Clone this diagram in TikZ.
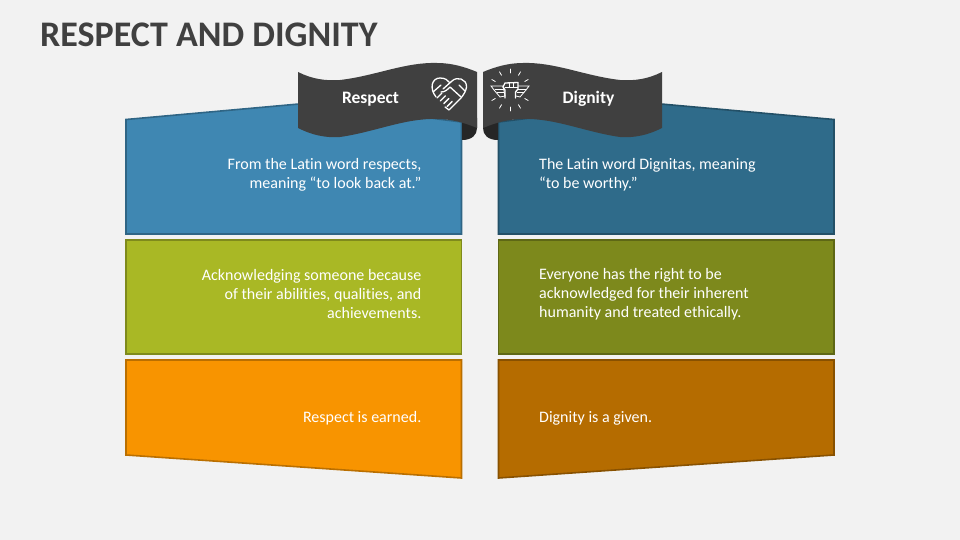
\documentclass[tikz,border=0pt]{standalone}
\usepackage{fontspec}
\setmainfont[Ligatures=NoCommon]{Carlito}
\definecolor{pagegray}{HTML}{F2F2F2}
\definecolor{inkgray}{HTML}{404040}
\definecolor{foldgray}{HTML}{262626}
\definecolor{blueA}{HTML}{3F87B2}
\definecolor{blueB}{HTML}{2F6B8A}
\definecolor{greenA}{HTML}{A9B825}
\definecolor{greenB}{HTML}{7D891C}
\definecolor{orangeA}{HTML}{F89400}
\definecolor{orangeB}{HTML}{B56C00}
\tikzset{
  panel/.style={draw=#1!75!black,fill=#1,line width=1.6pt,line join=miter},
  ribbon/.style={fill=inkgray},
  ribbonlabel/.style={text=white,font=\fontsize{17.5}{20}\selectfont\bfseries},
  lefttext/.style={text=white,anchor=east,align=right,inner sep=0pt,font=\fontsize{16}{19}\selectfont},
  righttext/.style={text=white,anchor=west,align=left,inner sep=0pt,font=\fontsize{16}{19}\selectfont},
  icon/.style={draw=white,line width=1.3pt,line join=round,line cap=round},
  thinicon/.style={draw=white,line width=.8pt,line cap=round}
}
\begin{document}
\begin{tikzpicture}[x=1pt,y=-1pt]
% Sfondo e titolo
\fill [pagegray] (0,0) rectangle (960,540);
\useasboundingbox (0,0) rectangle (960,540);
\node[anchor=west,inner sep=0pt,text=inkgray,font=\fontsize{36}{40}\selectfont\bfseries] (title) at (40,34.5) {RESPECT AND DIGNITY};

% Pannelli: due colonne speculari
\foreach \mirror/\shift/\cola/\colb/\colc in {1/0/blueA/greenA/orangeA,-1/960/blueB/greenB/orangeB} {
  \begin{scope}[xshift=\shift,xscale=\mirror]
    \draw [panel=\cola] (126,119.5) -- (310,103) -- (461.5,122) -- (461.5,234) -- (126,234) -- cycle;
    \draw [panel=\colb] (126,240) rectangle (461.5,354);
    \draw [panel=\colc] (126,360) -- (461.5,360) -- (461.5,478) -- (126,455) -- cycle;
    % Nastro con la piega
    \fill [foldgray] (462,118) -- (477,118) -- (477,128) .. controls (477,135) and (472,140) .. (462,140) -- cycle;
    \fill [ribbon] (298,72) .. controls (312,79) and (325,81) .. (340,80)
      .. controls (375,76) and (405,62) .. (437,63) .. controls (452,63) and (465,67) .. (477,72)
      -- (477,128) .. controls (465,123) and (452,119) .. (437,119)
      .. controls (405,118) and (375,132) .. (340,137) .. controls (325,138) and (312,135) .. (298,128) -- cycle;
  \end{scope}
}

% Testi
\node[ribbonlabel] (respect) at (370.5,99) {Respect};
\node[ribbonlabel] (dignity) at (588.5,99) {Dignity};
\node[lefttext] (respectA) at (421.5,175) {From the Latin word respects,\\meaning “to look back at.”};
\node[lefttext] (respectB) at (421.5,294.5) {Acknowledging someone because\\of their abilities, qualities, and\\achievements.};
\node[lefttext] (respectC) at (421.5,418.5) {Respect is earned.};
\node[righttext] (dignityA) at (539,175) {The Latin word Dignitas, meaning\\“to be worthy.”};
\node[righttext] (dignityB) at (539,294.5) {Everyone has the right to be\\acknowledged for their inherent\\humanity and treated ethically.};
\node[righttext] (dignityC) at (539,418.5) {Dignity is a given.};

% Icona: cuore con stretta di mano
\draw [icon] (436,97) .. controls (429,88) and (432,78) .. (440,78) .. controls (445,78) and (448,80) .. (450,83);
\draw [icon] (443,89) -- (452,81) .. controls (457,76) and (467,79) .. (466.5,87) .. controls (466,91) and (464,94) .. (461,98) -- (451,108) -- (449,110) -- (445,107);
\draw [icon] (441,92) .. controls (445,92) and (447,90) .. (450,87) -- (461,97);
\draw [icon] (433,92) -- (441,85) (459,85) -- (465,91);
\foreach \k in {0,1,2,3} {
  \draw [icon] ({437+3.4*\k},{98+2.8*\k}) -- ({442+3.4*\k},{93+2.8*\k});
}

% Icona: pugno con ali
\draw [icon] (505,98) -- (505,90) -- (503,87) -- (505,83) -- (518,82.5) -- (518,89) -- (515.5,92) -- (515.5,98);
\draw [thinicon] (509,83) -- (509,87) (513,83) -- (513,87) (505,87) -- (518,87);
\draw [thinicon] (491,86) -- (503,86) -- (505,96) -- (500,97) -- (494,90) -- cycle;
\draw [thinicon] (518,86) -- (529,86) -- (526,90) -- (520,97) -- (516,96);
\draw [thinicon] (495,89) -- (503.5,89) (497,92) -- (504,92);
\draw [thinicon] (518,89) -- (526,89) (517,92) -- (524,92);
\foreach \ang in {30,60,90,120,150,210,240,270,300,330} {
  \draw [thinicon] (510,90) ++(\ang:17) -- ++(\ang:4);
}
\end{tikzpicture}
\end{document}
